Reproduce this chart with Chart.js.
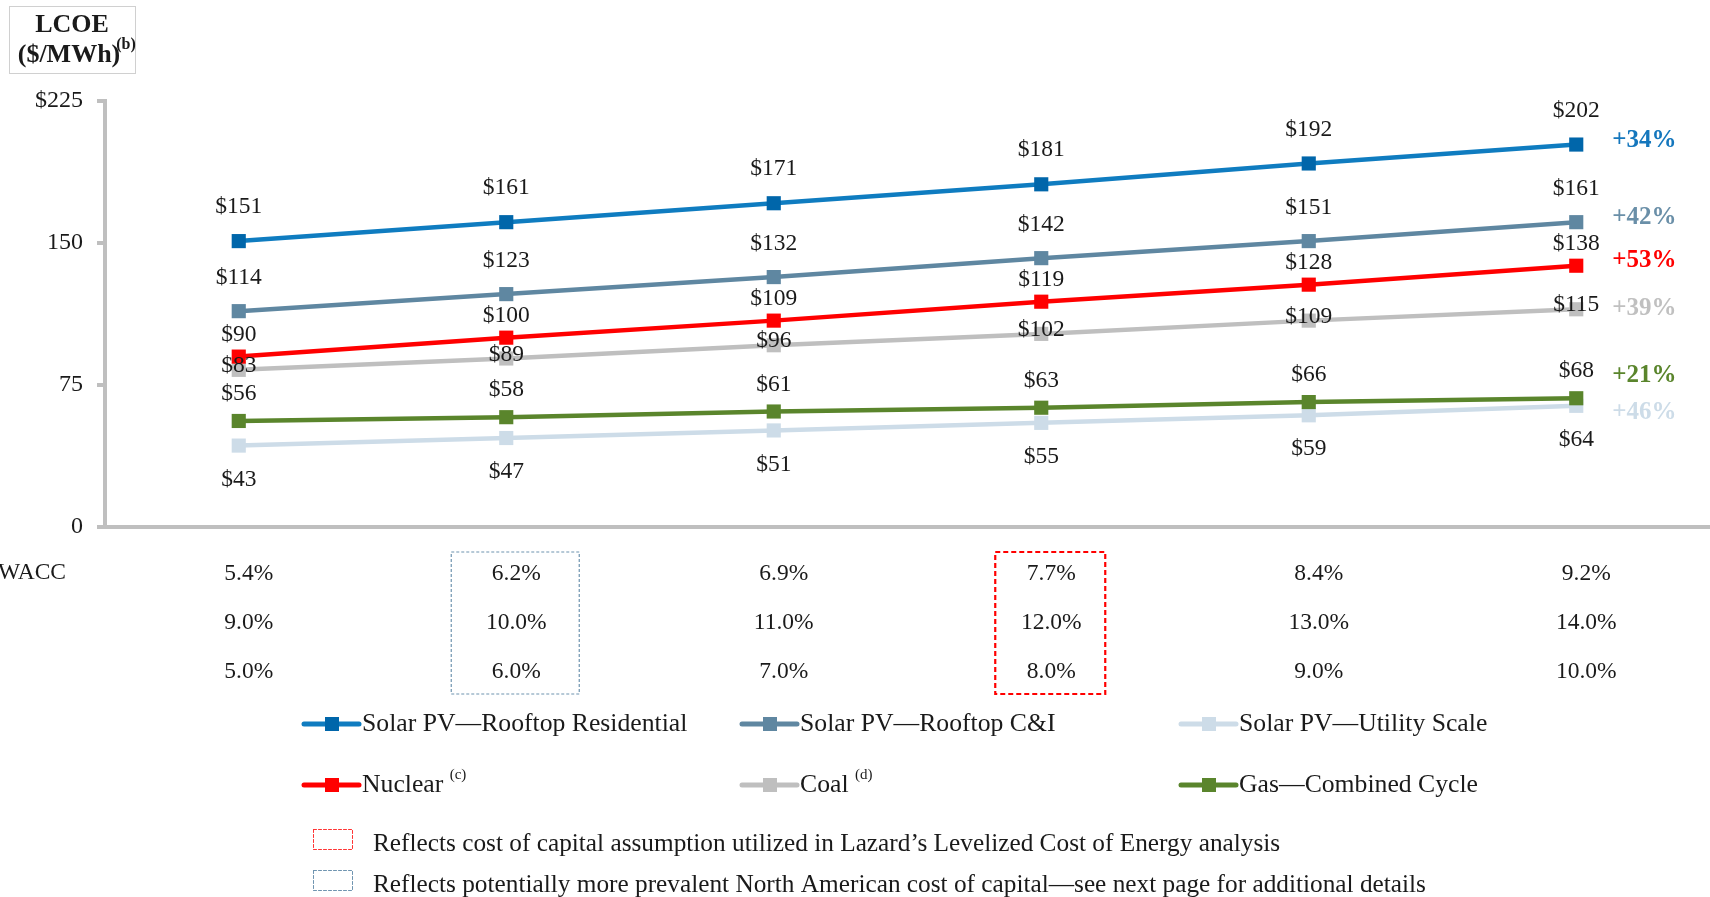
<!DOCTYPE html>
<html>
<head>
<meta charset="utf-8">
<script src="https://cdn.jsdelivr.net/npm/chart.js@4.4.0/dist/chart.umd.min.js"></script>
<style>
  body { margin: 0; background: #fff; }
  #wrap { width: 1710px; height: 897px; }
</style>
</head>
<body>
<div id="wrap"><canvas id="lcoeChart" width="1710" height="897"></canvas></div>
<script>
// WACC table shown under the x axis (one column per scenario)
const waccValues = ['5.4%', '6.2%', '6.9%', '7.7%', '8.4%', '9.2%'];
const costOfEquity = ['9.0%', '10.0%', '11.0%', '12.0%', '13.0%', '14.0%'];
const costOfDebt = ['5.0%', '6.0%', '7.0%', '8.0%', '9.0%', '10.0%'];

// LCOE ($/MWh) per technology
const seriesNames = ['Solar PV\u2014Rooftop Residential', 'Solar PV\u2014Rooftop C&I', 'Solar PV\u2014Utility Scale',
  'Nuclear', 'Coal', 'Gas\u2014Combined Cycle'];
const rooftopResidential = [151, 161, 171, 181, 192, 202];
const rooftopCI = [114, 123, 132, 142, 151, 161];
const utilityScale = [43, 47, 51, 55, 59, 64];
const nuclear = [90, 100, 109, 119, 128, 138];
const coal = [83, 89, 96, 102, 109, 115];
const gasCombinedCycle = [56, 58, 61, 63, 66, 68];
const pctChange = ['+34%', '+42%', '+46%', '+53%', '+39%', '+21%'];
const footnoteSup = ['', '', '', '(c)', '(d)', ''];

const yMin = 0;
const yMax = 225;
const yStep = 75;

const FONT = "'Liberation Serif', 'Times New Roman', serif";
const TEXT = '#1a1a1a';

// x labels are the three WACC rows stacked
const xLabels = waccValues.map((w, i) => [w, costOfEquity[i], costOfDebt[i]]);

function series(i, data, line, point, opts) {
  return Object.assign({
    label: seriesNames[i],
    data: data,
    borderColor: line,
    backgroundColor: point,
    pointBackgroundColor: point,
    pointBorderColor: point,
    borderWidth: 4.5,
    pointStyle: 'rect',
    pointRadius: 10,
    pointBorderWidth: 0,
    fill: false,
    tension: 0,
    pct: pctChange[i],
    sup: footnoteSup[i],
  }, opts);
}

const datasets = [
  series(0, rooftopResidential, '#0f7cc0', '#0066aa', { labelDy: -34, pctDy: -4, pctColor: '#1577bd', order: 1 }),
  series(1, rooftopCI, '#5f87a1', '#5f87a1', { labelDy: -33, pctDy: -5, pctColor: '#6a8fa8', order: 1 }),
  series(2, utilityScale, '#cddce8', '#cddce8', { labelDy: 34, pctDy: 7, pctColor: '#cddce8', order: 10 }),
  series(3, nuclear, '#ff0000', '#ff0000', { labelDy: -22, pctDy: -5, pctColor: '#ff0000', order: 1 }),
  series(4, coal, '#bfbfbf', '#bfbfbf', { labelDy: -4, pctDy: -1, pctColor: '#c0c0c0', order: 2 }),
  series(5, gasCombinedCycle, '#5a852c', '#5a852c', { labelDy: -27, pctDy: -23, pctColor: '#5a852c', order: 1 }),
];

// value labels above/below the points and the % change at the right end
const valueLabels = {
  id: 'valueLabels',
  afterDatasetsDraw(chart) {
    const ctx = chart.ctx;
    ctx.save();
    ctx.textBaseline = 'middle';
    chart.data.datasets.forEach((ds, i) => {
      const meta = chart.getDatasetMeta(i);
      ctx.font = '23.5px ' + FONT;
      ctx.fillStyle = TEXT;
      ctx.textAlign = 'center';
      meta.data.forEach((pt, j) => {
        ctx.fillText('$' + ds.data[j], pt.x, pt.y + ds.labelDy);
      });
      const last = meta.data[meta.data.length - 1];
      ctx.font = 'bold 25px ' + FONT;
      ctx.fillStyle = ds.pctColor;
      ctx.textAlign = 'left';
      ctx.fillText(ds.pct, last.x + 36, last.y + ds.pctDy);
    });
    ctx.restore();
  }
};

// unit box, WACC row label, highlight boxes, legend and footnotes
const decorations = {
  id: 'decorations',
  afterDraw(chart) {
    const ctx = chart.ctx;
    const xs = chart.scales.x;
    ctx.save();

    // LCOE box
    ctx.strokeStyle = '#d0d0d0';
    ctx.lineWidth = 1;
    ctx.strokeRect(9.5, 6.5, 126, 67);
    ctx.fillStyle = TEXT;
    ctx.textAlign = 'center';
    ctx.textBaseline = 'middle';
    ctx.font = 'bold 26px ' + FONT;
    ctx.fillText('LCOE', 72, 25);
    ctx.fillText('($/MWh)', 69, 55);
    ctx.font = 'bold 16px ' + FONT;
    ctx.fillText('(b)', 126, 45);

    // WACC row label (partly cut at the left edge)
    ctx.font = '23.5px ' + FONT;
    ctx.textAlign = 'right';
    ctx.fillText('WACC', 66, 573);

    // dashed boxes around two WACC columns
    const boxTop = 552, boxH = 142;
    ctx.setLineDash([3, 2]);
    ctx.strokeStyle = '#6f94b0';
    ctx.lineWidth = 1.2;
    let cx = xs.getPixelForValue(1) + 9;
    ctx.strokeRect(cx - 64, boxTop, 128, boxH);
    ctx.setLineDash([5, 3]);
    ctx.strokeStyle = '#ff0000';
    ctx.lineWidth = 2.2;
    cx = xs.getPixelForValue(3) + 9;
    ctx.strokeRect(cx - 55, boxTop, 110, boxH);
    ctx.setLineDash([]);

    // legend: 3 columns x 2 rows
    const colX = [304, 742, 1181];
    const rowY = [724, 785];
    chart.data.datasets.forEach((ds, i) => {
      const x = colX[i % 3];
      const y = rowY[Math.floor(i / 3)];
      ctx.strokeStyle = ds.borderColor;
      ctx.lineWidth = 5;
      ctx.lineCap = 'round';
      ctx.beginPath();
      ctx.moveTo(x, y);
      ctx.lineTo(x + 55, y);
      ctx.stroke();
      ctx.fillStyle = ds.pointBackgroundColor;
      ctx.fillRect(x + 21, y - 7, 14, 14);
      ctx.fillStyle = TEXT;
      ctx.textAlign = 'left';
      ctx.font = '25.7px ' + FONT;
      ctx.fillText(ds.label, x + 58, y);
      if (ds.sup) {
        const w = ctx.measureText(ds.label + ' ').width;
        ctx.font = '15px ' + FONT;
        ctx.fillText(ds.sup, x + 58 + w, y - 10);
      }
    });

    // footnote boxes
    ctx.lineWidth = 1;
    ctx.setLineDash([3, 2]);
    ctx.strokeStyle = '#ff3333';
    ctx.strokeRect(313.5, 829.5, 39, 20);
    ctx.strokeStyle = '#6f94b0';
    ctx.strokeRect(313.5, 870.5, 39, 20);
    ctx.setLineDash([]);
    ctx.fillStyle = TEXT;
    ctx.font = '25.3px ' + FONT;
    ctx.fillText('Reflects cost of capital assumption utilized in Lazard\u2019s Levelized Cost of Energy analysis', 373, 844);
    ctx.fillText('Reflects potentially more prevalent North American cost of capital\u2014see next page for additional details', 373, 885);

    ctx.restore();
  }
};

new Chart(document.getElementById('lcoeChart').getContext('2d'), {
  type: 'line',
  data: {
    labels: xLabels,
    datasets: datasets,
  },
  options: {
    responsive: false,
    animation: false,
    layout: { autoPadding: false, padding: { top: 101, bottom: 170, left: 0, right: 0 } },
    plugins: {
      legend: { display: false },
      tooltip: { enabled: false },
    },
    scales: {
      x: {
        offset: true,
        grid: { display: false },
        border: { color: '#bfbfbf', width: 4 },
        ticks: {
          padding: 14,
          labelOffset: 10,
          autoSkip: false,
          maxRotation: 0,
          color: TEXT,
          font: { family: FONT, size: 23.5, lineHeight: 49 / 23.5 },
        },
        afterFit: (s) => {
          s.height = 200;
          s.paddingLeft = 0;
          s.paddingRight = 0;
        },
      },
      y: {
        min: yMin,
        max: yMax,
        ticks: {
          stepSize: yStep,
          padding: 14,
          color: TEXT,
          font: { family: FONT, size: 24 },
          callback: (v) => (v === yMax ? '$' + v : v),
        },
        grid: { drawOnChartArea: false, drawTicks: true, tickLength: 8, color: '#bfbfbf', lineWidth: 4 },
        border: { color: '#bfbfbf', width: 4 },
        afterFit: (s) => { s.width = 105; },
      },
    },
  },
  plugins: [valueLabels, decorations],
});
</script>
</body>
</html>
